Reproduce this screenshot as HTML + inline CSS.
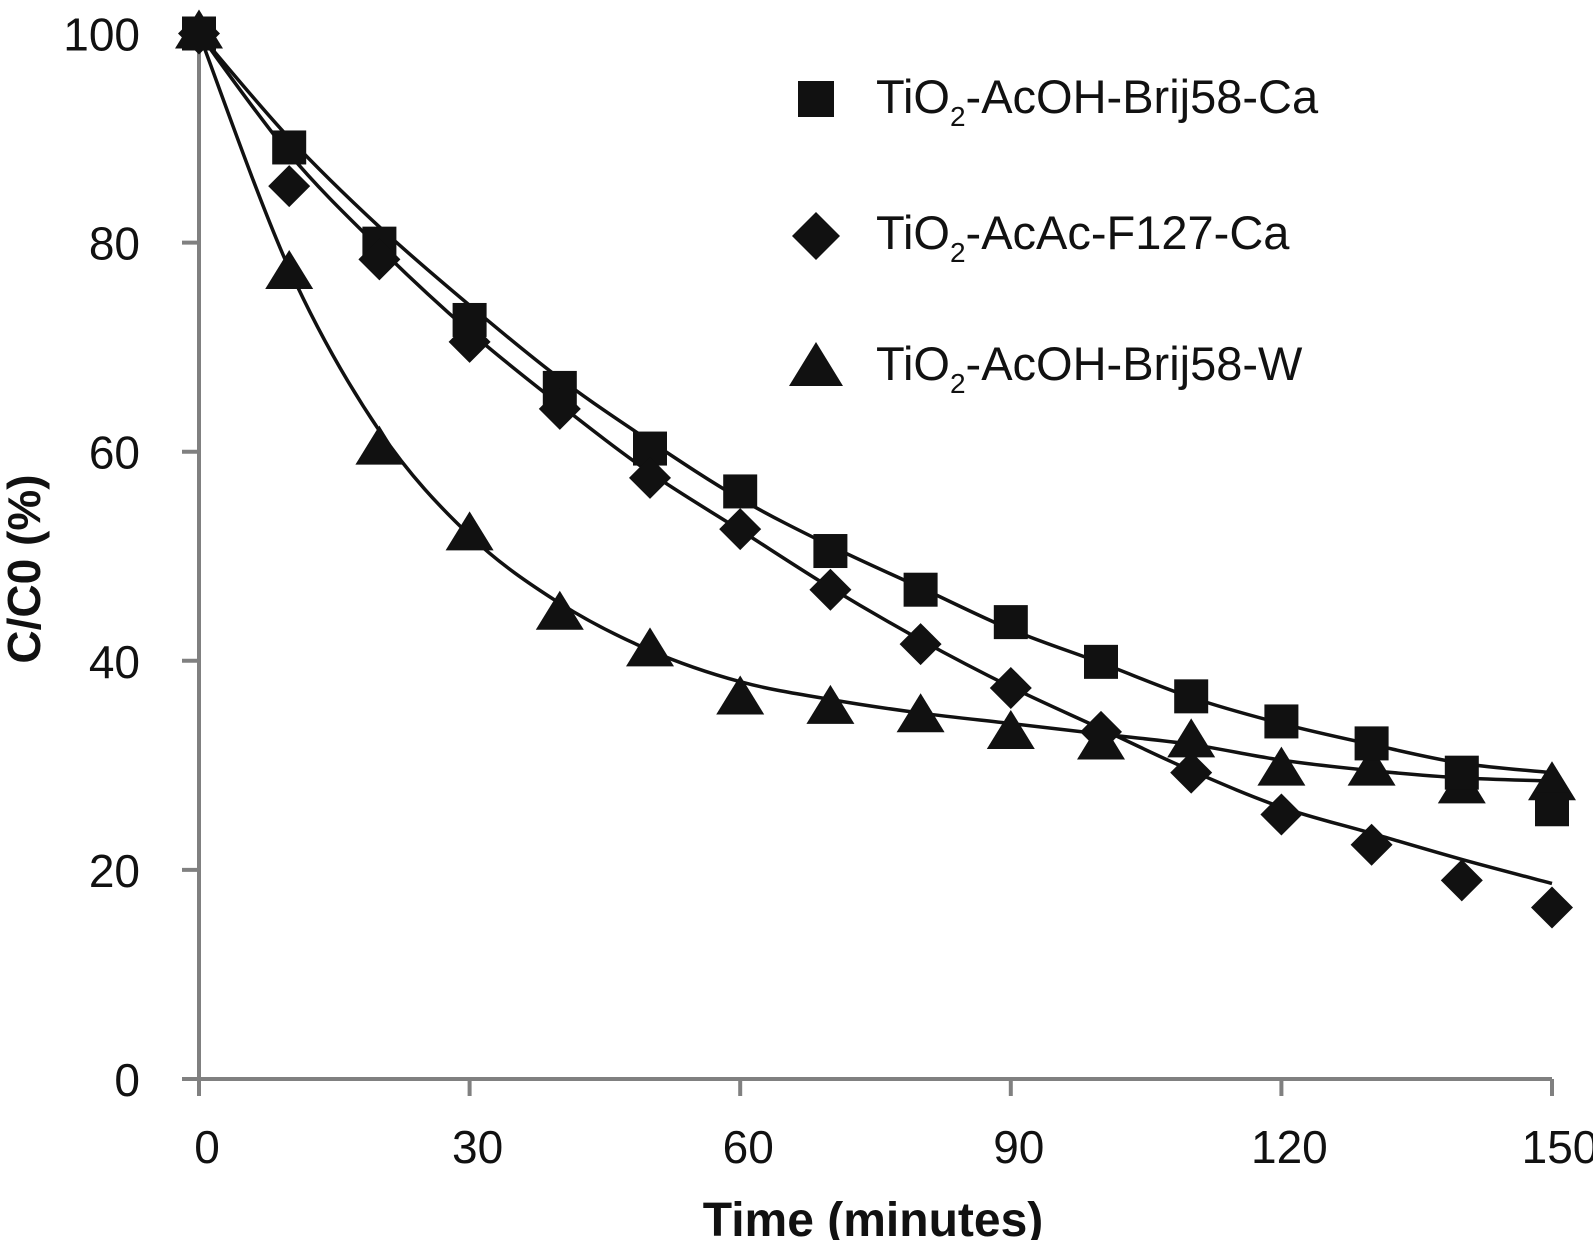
<!DOCTYPE html>
<html><head><meta charset="utf-8"><style>
html,body{margin:0;padding:0;background:#fff;}
svg{display:block;font-family:"Liberation Sans",Arial,sans-serif;}
</style></head><body>
<svg id="chart" width="1593" height="1240" viewBox="0 0 1593 1240" xmlns="http://www.w3.org/2000/svg">
<g id="axes"></g>
<g id="fits"></g>
<g id="marks"></g>
<text x="873" y="1236" text-anchor="middle" font-size="48" font-weight="bold" fill="#111">Time (minutes)</text>
<text transform="translate(40,569) rotate(-90)" text-anchor="middle" font-size="46" font-weight="bold" fill="#111">C/C0 (%)</text>
<g font-size="47" fill="#111">
  <g>
    <rect x="798" y="81" width="36" height="36" fill="#111"/>
    <text x="876" y="113">TiO<tspan font-size="28" dy="13">2</tspan><tspan dy="-13">-AcOH-Brij58-Ca</tspan></text>
  </g>
  <g>
    <polygon points="816,212 840,236 816,260 792,236" fill="#111"/>
    <text x="876" y="249">TiO<tspan font-size="28" dy="13">2</tspan><tspan dy="-13">-AcAc-F127-Ca</tspan></text>
  </g>
  <g>
    <polygon points="816,342 843,386 789,386" fill="#111"/>
    <text x="876" y="380">TiO<tspan font-size="28" dy="13">2</tspan><tspan dy="-13">-AcOH-Brij58-W</tspan></text>
  </g>
</g>
</svg>
<script>
const times=[0,10,20,30,40,50,60,70,80,90,100,110,120,130,140,150];
const brijCa=[100,89.1,79.9,72.6,66.1,60.3,56.2,50.5,46.8,43.7,39.9,36.6,34.2,32.1,29.3,25.8];
const f127Ca=[100,85.4,78.4,70.5,64.1,57.5,52.6,46.8,41.6,37.4,33.2,29.3,25.3,22.4,19.0,16.4];
const brijW=[100,77.0,60.2,52.0,44.4,40.9,36.3,35.4,34.6,33.0,32.0,32.2,29.5,29.5,27.8,28.1];
const fitBrijCa=[100,90,81.5,74,67,61,55.5,51,47,43,39.8,36.5,34,32,30.2,29.3];
const fitF127Ca=[100,88.5,79.5,71.5,64.5,58,52.5,47,42,37.5,33.5,29.5,26,23.5,21,18.7];
const fitBrijW=[100,77.5,62,52,45.5,41,38,36.3,35,34,33,32,30.5,29.5,28.8,28.5];
const xTicks=[0,30,60,90,120,150];
const yTicks=[0,20,40,60,80,100];

const NS="http://www.w3.org/2000/svg";
const X=t=>199+t*(1552-199)/150;
const Y=v=>1079-v*(1079-33.5)/100;
function mk(tag,attrs,parent){const e=document.createElementNS(NS,tag);for(const k in attrs)e.setAttribute(k,attrs[k]);parent.appendChild(e);return e;}
const axes=document.getElementById('axes');
let a=mk('line',{x1:X(0),y1:Y(0),x2:X(150),y2:Y(0),stroke:'#808080','stroke-width':4},axes);


a=mk('line',{x1:X(0),y1:Y(0)+17,x2:X(0),y2:Y(100),stroke:'#808080','stroke-width':4},axes);


xTicks.forEach(t=>{
  let l=mk('line',{x1:X(t),y1:Y(0),x2:X(t),y2:Y(0)+17,stroke:'#808080','stroke-width':4},axes);
  
  
  let tx=mk('text',{x:X(t)+8,y:1163,'text-anchor':'middle','font-size':46,fill:'#111'},axes);
  tx.textContent=t;
  
  
});
yTicks.forEach(v=>{
  let l=mk('line',{x1:X(0)-17,y1:Y(v),x2:X(0),y2:Y(v),stroke:'#808080','stroke-width':4},axes);
  
  
  let tx=mk('text',{x:140,y:Y(v)+17,'text-anchor':'end','font-size':46,fill:'#111'},axes);
  tx.textContent=v;
  
  
});
function smooth(vals){
  const p=times.map((t,i)=>[X(t),Y(vals[i])]);
  let d='M'+p[0][0]+','+p[0][1];
  for(let i=0;i<p.length-1;i++){
    const p0=p[i-1]||p[i],p1=p[i],p2=p[i+1],p3=p[i+2]||p[i+1];
    const c1=[p1[0]+(p2[0]-p0[0])/6,p1[1]+(p2[1]-p0[1])/6];
    const c2=[p2[0]-(p3[0]-p1[0])/6,p2[1]-(p3[1]-p1[1])/6];
    d+=' C'+c1+' '+c2+' '+p2;
  }
  return d;
}
const fits=document.getElementById('fits');
[[fitBrijCa,'fit-brij58-ca'],[fitF127Ca,'fit-f127-ca'],[fitBrijW,'fit-brij58-w']].forEach(([v,n])=>{
  const p=mk('path',{d:smooth(v),fill:'none',stroke:'#111','stroke-width':3.5},fits);
  
  
});
const marks=document.getElementById('marks');
times.forEach((t,i)=>{
  const x=X(t);
  let y=Y(brijW[i]);
  let m=mk('polygon',{points:`${x},${y-24} ${x+24},${y+15} ${x-24},${y+15}`,fill:'#111'},marks);
  
  
  y=Y(brijCa[i]);
  m=mk('rect',{x:x-17,y:y-17,width:34,height:34,fill:'#111'},marks);
  
  
  y=Y(f127Ca[i]);
  m=mk('polygon',{points:`${x},${y-21} ${x+21},${y} ${x},${y+21} ${x-21},${y}`,fill:'#111'},marks);
  
  
});
</script>
</body></html>
